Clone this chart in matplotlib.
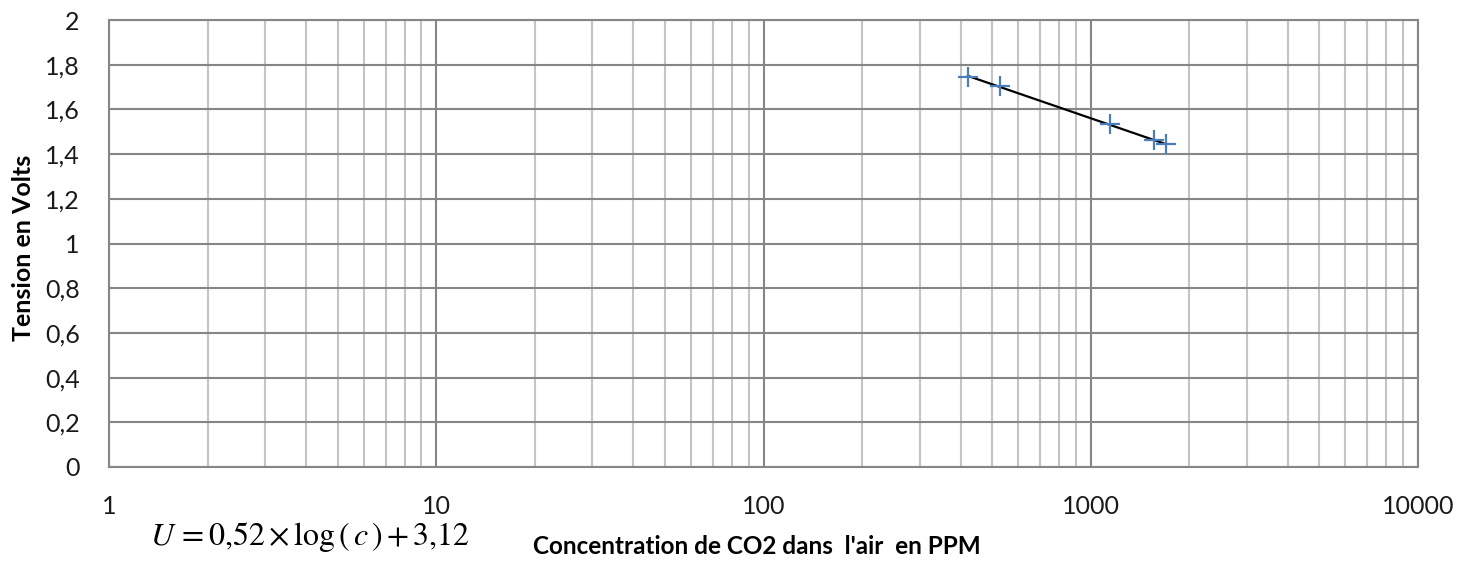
import matplotlib.pyplot as plt
import numpy as np
from matplotlib.ticker import FuncFormatter, FixedLocator, LogLocator, NullFormatter

# mesures : concentration de CO2 (ppm) et tension du capteur (V)
conc_ppm = [421, 528, 1145, 1560, 1694]
tension_v = [1.746, 1.704, 1.534, 1.462, 1.443]

x_ticks = [1, 10, 100, 1000, 10000]
y_ticks = [0, 0.2, 0.4, 0.6, 0.8, 1, 1.2, 1.4, 1.6, 1.8, 2]

formula = r"$U\,=0{,}52\times\log\left(\,c\,\right)+3{,}12$"
xlabel = "Concentration de CO2 dans  l'air  en PPM"
ylabel = "Tension en Volts"

plt.rcParams['font.family'] = ['Lato', 'DejaVu Sans']
plt.rcParams['mathtext.fontset'] = 'stix'

W, H = 1460, 562
fig = plt.figure(figsize=(W / 100, H / 100), dpi=100)
ax = fig.add_axes([109 / W, 1 - 467 / H, (1418 - 109) / W, (467 - 20) / H])

ax.set_xscale('log')
ax.set_xlim(1, 10000)
ax.set_ylim(0, 2)

# trend line (fit in log space), drawn between first and last points
lx = np.log10(conc_ppm)
a, b = np.polyfit(lx, tension_v, 1)
xs = np.array([min(conc_ppm), max(conc_ppm)])
ax.plot(xs, a * np.log10(xs) + b, color='black', lw=1.6, zorder=3)

ax.plot(conc_ppm, tension_v, linestyle='none', marker='+', ms=14, mew=1.6,
        color='#4a7ebb', zorder=4)

ax.xaxis.set_major_locator(FixedLocator(x_ticks))
ax.xaxis.set_minor_locator(LogLocator(base=10, subs=np.arange(2, 10)))
ax.xaxis.set_minor_formatter(NullFormatter())
ax.xaxis.set_major_formatter(FuncFormatter(lambda v, p: f"{v:g}"))
ax.yaxis.set_major_locator(FixedLocator(y_ticks))
ax.yaxis.set_major_formatter(FuncFormatter(lambda v, p: f"{v:g}".replace('.', ',')))

ax.grid(True, which='major', axis='both', color='#868686', lw=1.5)
ax.grid(True, which='minor', axis='x', color='#c4c4c4', lw=1.5)
ax.set_axisbelow(True)
for s in ax.spines.values():
    s.set_color('#868686')
    s.set_linewidth(1.5)

ax.tick_params(which='both', length=0)
ax.tick_params(axis='x', pad=20, labelsize=18, labelcolor='#1a1a1a')
ax.tick_params(axis='y', pad=21, labelsize=18, labelcolor='#1a1a1a')

fig.text(24 / W, 1 - 248 / H, ylabel, rotation=90, ha='center', va='center',
         fontsize=18, fontweight='bold')
fig.text(757 / W, 1 - 547 / H, xlabel, ha='center', va='center',
         fontsize=17.5, fontweight='bold')
fig.text(150 / W, 1 - 537 / H, formula, ha='left', va='center', fontsize=23)

fig.savefig('out.png', dpi=100)
